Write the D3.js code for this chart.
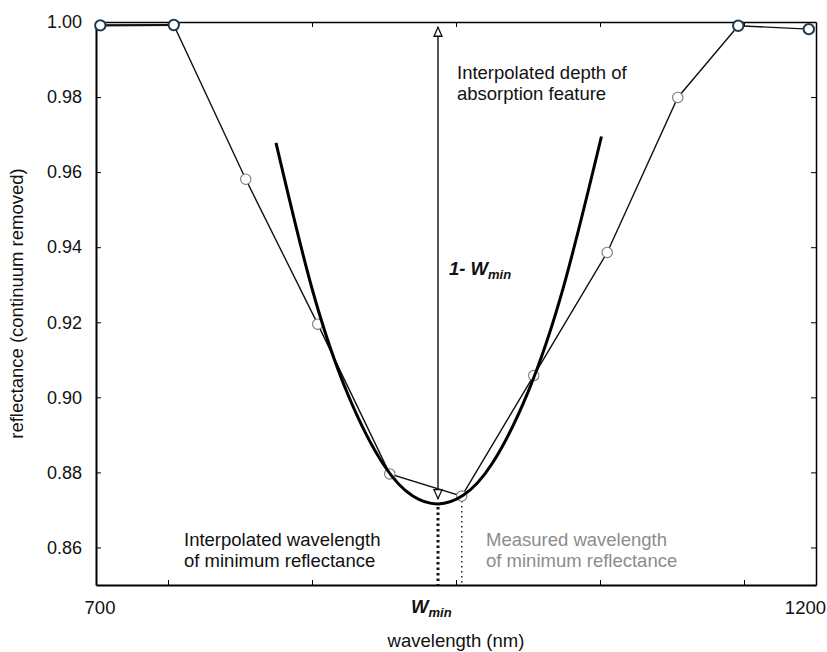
<!DOCTYPE html>
<html>
<head>
<meta charset="utf-8">
<script src="https://cdn.jsdelivr.net/npm/d3@7"></script>
<style>
  body { margin: 0; background: #fff; }
  text { font-family: "Liberation Sans", Arial, sans-serif; }
</style>
</head>
<body>
<div id="chart"></div>
<script>
// measured spectrum, continuum removed
var wavelengths = [703, 754, 804, 854, 904, 954, 1004, 1055, 1104, 1146, 1195];
var reflectance = [0.9991, 0.9992, 0.9581, 0.9195, 0.8796, 0.8737, 0.9058, 0.9386, 0.9799, 0.9990, 0.9981];
// shoulders drawn with dark outline
var shoulderIdx = [0, 1, 9, 10];

// fitted polynomial
var fitWavelengths = [825, 850, 875, 900, 920, 937.5, 955, 975, 1000, 1025, 1051];
var fitReflectance = [0.9678, 0.9290, 0.9007, 0.8819, 0.8737, 0.8716, 0.8739, 0.8823, 0.9014, 0.9299, 0.9695];

var wMin = 937.5;       // interpolated wavelength of minimum
var rMin = 0.8716;      // interpolated minimum reflectance
var measuredMin = 954;  // measured wavelength of minimum

var yTicks = [0.86, 0.88, 0.90, 0.92, 0.94, 0.96, 0.98, 1.00];
var xTicks = [750, 850, 950, 1050, 1150];
var xLabels = [700, 1200];

var width = 827, height = 652;

var svg = d3.select("#chart")
    .append("svg")
    .attr("width", width)
    .attr("height", height);

var x = d3.scaleLinear().domain([700, 1200]).range([96, 816]);
var y = d3.scaleLinear().domain([0.85, 1.0]).range([585, 22]);

// frame + ticks (all ticks point inwards)
svg.append("g")
    .attr("transform", "translate(0,585)")
    .call(d3.axisBottom(x).tickValues(xTicks).tickSize(-5).tickSizeOuter(0).tickFormat(""))
    .call(function(g) { g.select(".domain").attr("stroke-width", 2); });

svg.append("g")
    .attr("transform", "translate(0,22)")
    .call(d3.axisTop(x).tickValues(xTicks).tickSize(-5).tickSizeOuter(0).tickFormat(""))
    .call(function(g) { g.select(".domain").attr("stroke-width", 1.5); });

svg.append("g")
    .attr("transform", "translate(96,0)")
    .call(d3.axisLeft(y).tickValues(yTicks).tickSize(-5).tickSizeOuter(0)
        .tickPadding(14).tickFormat(d3.format(".2f")))
    .call(function(g) {
        g.select(".domain").attr("stroke-width", 2);
        g.selectAll("text").attr("font-size", 18).attr("fill", "#111")
            .attr("font-family", "Liberation Sans, Arial, sans-serif");
    });

svg.append("g")
    .attr("transform", "translate(816,0)")
    .call(d3.axisRight(y).tickValues(yTicks.slice(0, 7)).tickSize(-5).tickSizeOuter(0).tickFormat(""))
    .call(function(g) { g.select(".domain").attr("stroke-width", 1.5); });

// x labels, only the ends
svg.selectAll(".xlab")
    .data(xLabels)
    .enter()
    .append("text")
    .attr("class", "xlab")
    .attr("x", function(d, i) { return i == 0 ? x(d) + 4 : 826; })
    .attr("y", 614)
    .attr("text-anchor", function(d, i) { return i == 0 ? "middle" : "end"; })
    .attr("font-size", 18.5)
    .attr("fill", "#111")
    .text(function(d) { return d; });

// dotted drop lines
svg.append("line")
    .attr("x1", x(wMin)).attr("x2", x(wMin))
    .attr("y1", y(rMin) + 3).attr("y2", y(0.85))
    .attr("stroke", "#111").attr("stroke-width", 3)
    .attr("stroke-dasharray", "2.5,3");

svg.append("line")
    .attr("x1", x(measuredMin)).attr("x2", x(measuredMin))
    .attr("y1", y(0.8737) + 5).attr("y2", y(0.85))
    .attr("stroke", "#222").attr("stroke-width", 1.5)
    .attr("stroke-dasharray", "1.5,3.5");

// arrow heads
var defs = svg.append("defs");
defs.append("marker")
    .attr("id", "head")
    .attr("markerUnits", "userSpaceOnUse")
    .attr("viewBox", "-1 -5 11 10")
    .attr("refX", 9).attr("refY", 0)
    .attr("markerWidth", 11).attr("markerHeight", 10)
    .attr("orient", "auto-start-reverse")
    .append("path")
    .attr("d", "M0,-4L9,0L0,4Z")
    .attr("fill", "#fff")
    .attr("stroke", "#111")
    .attr("stroke-width", 1.3);

svg.append("line")
    .attr("x1", x(wMin)).attr("x2", x(wMin))
    .attr("y1", y(0.9986)).attr("y2", y(0.8730))
    .attr("stroke", "#111").attr("stroke-width", 1.4)
    .attr("marker-start", "url(#head)")
    .attr("marker-end", "url(#head)");

// measured spectrum
var pts = wavelengths.map(function(w, i) { return [w, reflectance[i]]; });

var line = d3.line()
    .x(function(d) { return x(d[0]); })
    .y(function(d) { return y(d[1]); });

svg.append("path")
    .datum(pts)
    .attr("d", line)
    .attr("fill", "none")
    .attr("stroke", "#111")
    .attr("stroke-width", 1.4);

svg.append("path")
    .datum(pts.slice(0, 2))
    .attr("d", line)
    .attr("fill", "none")
    .attr("stroke", "#111")
    .attr("stroke-width", 2.2);

svg.selectAll("circle")
    .data(pts)
    .enter()
    .append("circle")
    .attr("cx", function(d) { return x(d[0]); })
    .attr("cy", function(d) { return y(d[1]); })
    .attr("r", 5.2)
    .attr("fill", "#fff")
    .attr("stroke", function(d, i) { return shoulderIdx.indexOf(i) >= 0 ? "#1d3a4e" : "#7a7a7a"; })
    .attr("stroke-width", function(d, i) { return shoulderIdx.indexOf(i) >= 0 ? 2 : 1.1; });

// fitted curve
var fit = fitWavelengths.map(function(w, i) { return [w, fitReflectance[i]]; });
svg.append("path")
    .datum(fit)
    .attr("d", d3.line()
        .x(function(d) { return x(d[0]); })
        .y(function(d) { return y(d[1]); })
        .curve(d3.curveNatural))
    .attr("fill", "none")
    .attr("stroke", "#000")
    .attr("stroke-width", 3);

// annotations
var depth = svg.append("text")
    .attr("x", 457).attr("y", 79)
    .attr("font-size", 18.5).attr("fill", "#111");
depth.append("tspan").attr("x", 457).text("Interpolated depth of");
depth.append("tspan").attr("x", 457).attr("dy", 21).text("absorption feature");

var interp = svg.append("text")
    .attr("x", 184).attr("y", 546)
    .attr("font-size", 18.5).attr("fill", "#111");
interp.append("tspan").attr("x", 184).text("Interpolated wavelength");
interp.append("tspan").attr("x", 184).attr("dy", 21).text("of minimum reflectance");

var meas = svg.append("text")
    .attr("x", 486).attr("y", 546)
    .attr("font-size", 18.5).attr("fill", "#8c8c8c");
meas.append("tspan").attr("x", 486).text("Measured wavelength");
meas.append("tspan").attr("x", 486).attr("dy", 21).text("of minimum reflectance");

var depthLab = svg.append("text")
    .attr("x", 449).attr("y", 275)
    .attr("font-weight", "bold").attr("font-style", "italic")
    .attr("fill", "#111");
depthLab.append("tspan").attr("font-size", 18.5).text("1- W");
depthLab.append("tspan").attr("font-size", 13).attr("dy", 4).text("min");

var wLab = svg.append("text")
    .attr("x", x(wMin) - 27).attr("y", 613)
    .attr("font-weight", "bold").attr("font-style", "italic")
    .attr("fill", "#111");
wLab.append("tspan").attr("font-size", 18.5).text("W");
wLab.append("tspan").attr("font-size", 13).attr("dy", 4).text("min");

svg.append("text")
    .attr("x", 456).attr("y", 647)
    .attr("text-anchor", "middle")
    .attr("font-size", 18.5).attr("fill", "#111")
    .text("wavelength (nm)");

svg.append("text")
    .attr("transform", "translate(23," + ((22 + 585) / 2) + ") rotate(-90)")
    .attr("text-anchor", "middle")
    .attr("font-size", 18.5).attr("fill", "#111")
    .text("reflectance (continuum removed)");
</script>
</body>
</html>
